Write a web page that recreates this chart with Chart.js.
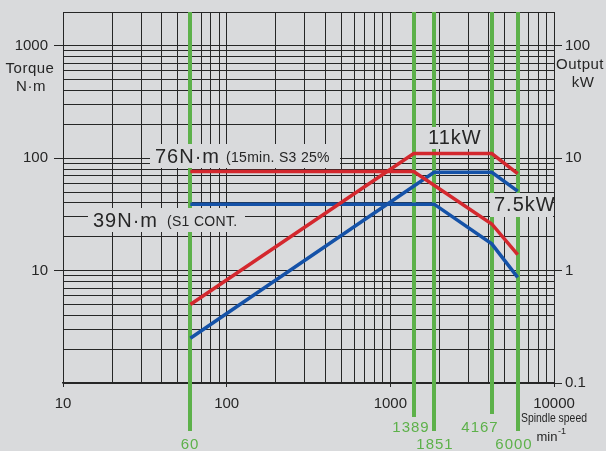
<!DOCTYPE html>
<html>
<head>
<meta charset="utf-8">
<script src="https://cdn.jsdelivr.net/npm/chart.js@4.4.1/dist/chart.umd.min.js"></script>
<style>
    html, body { margin: 0; padding: 0; background: #d9dadc; }
    #wrap { width: 606px; height: 451px; }
</style>
</head>
<body>
<div id="wrap"><canvas id="chart" width="606" height="451"></canvas></div>
<script>
(function () {
    "use strict";

    // Data (speed in min-1, torque in N·m, output in kW)
    var redTorqueSpeed = [60, 1389, 4167, 6000];
    var redTorque = [76, 76, 26, 13.9];
    var redPowerSpeed = [60, 1389, 4167, 6000];
    var redPower = [0.5, 11, 11, 7.3];

    var blueTorqueSpeed = [60, 1851, 4167, 6000];
    var blueTorque = [39, 39, 17.3, 8.7];
    var bluePowerSpeed = [60, 1851, 4167, 6000];
    var bluePower = [0.25, 7.5, 7.5, 5.1];

    var markSpeeds = [60, 1389, 1851, 4167, 6000];

    var xTickLabels = [10, 100, 1000, 10000];
    var torqueTickLabels = [10, 100, 1000];
    var powerTickLabels = [0.1, 1, 10, 100];

    var BG = "#d9dadc";
    var INK = "#262626";
    var GREEN = "#5db14a";
    var FONT = "'Liberation Sans', Arial, sans-serif";

    // grid steps 1..9 per decade
    function logSteps(min, max) {
        var out = [];
        for (var k = -3; k <= 5; k++) {
            for (var m = 1; m <= 9; m++) {
                var v = m * Math.pow(10, k);
                if (v >= min - 1e-9 && v <= max + 1e-9) out.push(v);
            }
        }
        return out;
    }

    function pairs(xs, ys) {
        return xs.map(function (x, i) { return {x: x, y: ys[i]}; });
    }

    // green marker line styling (length below axis, label row, label shift)
    var markStyle = [
        {down: 48, row: 62, dx: 0},
        {down: 34, row: 45, dx: -3},
        {down: 48, row: 62, dx: 1},
        {down: 31, row: 45, dx: -12},
        {down: 48, row: 62, dx: -4}
    ];

    // boxed notes on the plot
    var notes = [
        {box: [150, 144, 190, 24], parts: [
            {text: "76N·m", x: 155, y: 157, size: 20, ls: 1},
            {text: "(15min. S3 25%", x: 226, y: 158, size: 14, ls: 0.3}]},
        {box: [88, 208, 157, 24], parts: [
            {text: "39N·m", x: 93, y: 221, size: 20, ls: 1},
            {text: "(S1 CONT.", x: 167, y: 222, size: 14, ls: 0.3}]},
        {box: [424, 127, 58, 22], parts: [
            {text: "11kW", x: 428, y: 138, size: 20, ls: 1}]},
        {box: [490, 193, 63, 24], parts: [
            {text: "7.5kW", x: 494, y: 205, size: 20, ls: 1}]}
    ];

    var drawExtras = {
        id: "drawExtras",
        beforeDraw: function (chart) {
            var c = chart.ctx;
            c.save();
            c.fillStyle = BG;
            c.fillRect(0, 0, chart.width, chart.height);
            c.restore();
        },
        beforeDatasetsDraw: function (chart) {
            var c = chart.ctx, area = chart.chartArea, xs = chart.scales.x;
            c.save();
            // green speed markers
            markSpeeds.forEach(function (s, i) {
                var px = Math.round(xs.getPixelForValue(s));
                var st = markStyle[i];
                c.strokeStyle = GREEN;
                c.lineWidth = 4;
                c.beginPath();
                c.moveTo(px, area.top);
                c.lineTo(px, area.bottom + st.down);
                c.stroke();
                c.fillStyle = GREEN;
                c.font = "15px " + FONT;
                c.letterSpacing = "1px";
                c.textAlign = "center";
                c.textBaseline = "middle";
                c.fillText(String(s), px + st.dx, area.bottom + st.row);
            });
            // boxed notes
            notes.forEach(function (n) {
                c.fillStyle = BG;
                c.fillRect(n.box[0], n.box[1], n.box[2], n.box[3]);
                n.parts.forEach(function (p) {
                    c.fillStyle = INK;
                    c.font = p.size + "px " + FONT;
                    c.letterSpacing = p.ls + "px";
                    c.textAlign = "left";
                    c.textBaseline = "middle";
                    c.fillText(p.text, p.x, p.y);
                });
            });
            c.restore();
        },
        afterDraw: function (chart) {
            var c = chart.ctx;
            c.save();
            c.fillStyle = INK;
            c.textAlign = "center";
            c.textBaseline = "middle";
            c.letterSpacing = "0.5px";
            c.font = "15px " + FONT;
            c.fillText("Torque", 30, 69);
            c.fillText("N·m", 31, 87);
            c.fillText("Output", 580, 65);
            c.fillText("kW", 583, 83);
            c.letterSpacing = "0px";
            c.save();
            c.translate(554, 418);
            c.scale(0.8, 1);
            c.font = "13px " + FONT;
            c.fillText("Spindle speed", 0, 0);
            c.restore();
            c.font = "13px " + FONT;
            c.fillText("min", 547, 437);
            c.font = "9px " + FONT;
            c.fillText("-1", 562, 432);
            c.restore();
        }
    };

    function decadeTick(labels) {
        return function (ctx) {
            var v = ctx.tick ? ctx.tick.value : null;
            return labels.indexOf(v) >= 0 ? INK : "rgba(0,0,0,0)";
        };
    }

    function fixWidth(w) {
        return function (scale) {
            scale.width = w;
            scale.paddingTop = 0;
            scale.paddingBottom = 0;
        };
    }

    var ctx = document.getElementById("chart").getContext("2d");
    var myChart = new Chart(ctx, {
        type: "scatter",
        data: {
            datasets: [{
                    label: "S3 torque",
                    data: pairs(redTorqueSpeed, redTorque),
                    borderColor: "#d4282e",
                    yAxisID: "y"
                },
                {
                    label: "S3 output",
                    data: pairs(redPowerSpeed, redPower),
                    borderColor: "#d4282e",
                    yAxisID: "y2"
                },
                {
                    label: "S1 torque",
                    data: pairs(blueTorqueSpeed, blueTorque),
                    borderColor: "#1552a8",
                    yAxisID: "y"
                },
                {
                    label: "S1 output",
                    data: pairs(bluePowerSpeed, bluePower),
                    borderColor: "#1552a8",
                    yAxisID: "y2"
                }
            ]
        },
        options: {
            responsive: false,
            animation: false,
            showLine: true,
            layout: {padding: {top: 12, left: 0, right: 0, bottom: 0}},
            elements: {
                point: {radius: 0, hoverRadius: 0},
                line: {borderWidth: 3.5, tension: 0, borderCapStyle: "butt"}
            },
            plugins: {
                legend: {display: false},
                tooltip: {enabled: false}
            },
            scales: {
                x: {
                    type: "logarithmic",
                    min: 10,
                    max: 10000,
                    afterBuildTicks: function (scale) {
                        scale.ticks = logSteps(10, 10000).map(function (v) { return {value: v}; });
                    },
                    afterFit: function (scale) {
                        scale.height = 68;
                        scale.paddingLeft = 0;
                        scale.paddingRight = 0;
                    },
                    grid: {color: INK, lineWidth: 1, tickLength: 4, tickColor: decadeTick(xTickLabels)},
                    border: {display: true, color: INK, width: 1.5},
                    ticks: {
                        autoSkip: false,
                        maxRotation: 0,
                        padding: 8,
                        color: INK,
                        font: {family: FONT, size: 15},
                        callback: function (v) { return xTickLabels.indexOf(v) >= 0 ? String(v) : ""; }
                    }
                },
                y: {
                    type: "logarithmic",
                    position: "left",
                    min: 1,
                    max: 2000,
                    afterBuildTicks: function (scale) {
                        scale.ticks = logSteps(1, 2000).map(function (v) { return {value: v}; });
                    },
                    afterFit: fixWidth(63),
                    grid: {color: INK, lineWidth: 1, tickLength: 9, tickColor: decadeTick(torqueTickLabels)},
                    border: {display: true, color: INK, width: 1},
                    ticks: {
                        autoSkip: false,
                        padding: 6,
                        color: INK,
                        font: {family: FONT, size: 15},
                        callback: function (v) { return torqueTickLabels.indexOf(v) >= 0 ? String(v) : ""; }
                    }
                },
                y2: {
                    type: "logarithmic",
                    position: "right",
                    min: 0.1,
                    max: 200,
                    afterBuildTicks: function (scale) {
                        scale.ticks = powerTickLabels.map(function (v) { return {value: v}; });
                    },
                    afterFit: fixWidth(52),
                    grid: {drawOnChartArea: false, color: INK, tickLength: 8, tickColor: INK},
                    border: {display: true, color: INK, width: 1},
                    ticks: {
                        autoSkip: false,
                        padding: 3,
                        color: INK,
                        font: {family: FONT, size: 15},
                        callback: function (v) { return String(v); }
                    }
                }
            }
        },
        plugins: [drawExtras]
    });
})();
</script>
</body>
</html>
